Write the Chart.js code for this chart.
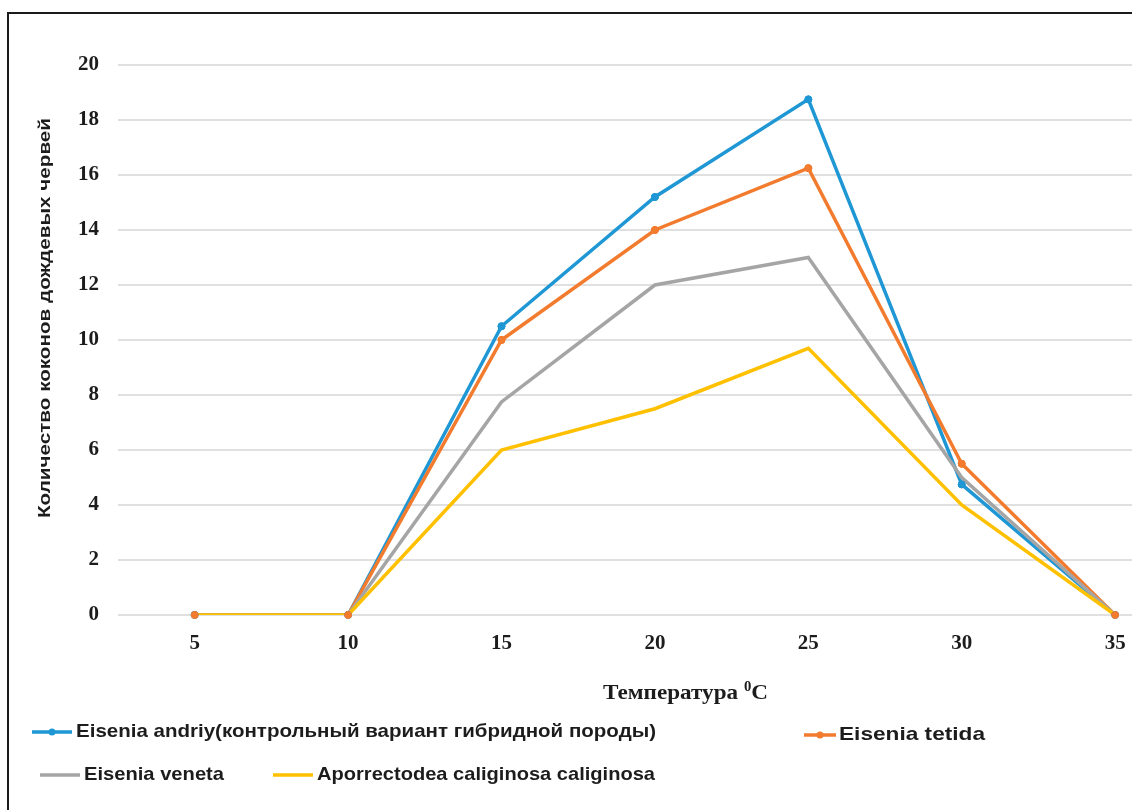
<!DOCTYPE html>
<html>
<head>
<meta charset="utf-8">
<script src="https://cdn.jsdelivr.net/npm/chart.js@4.4.1/dist/chart.umd.min.js"></script>
<style>
    html, body { margin: 0; padding: 0; background: #fff; overflow: hidden; }
    #wrap { position: relative; width: 1132px; height: 810px; overflow: hidden; }
    #chart { position: absolute; left: 0; top: 0; }
    /* outer frame of the figure, its right and bottom edges fall outside the picture */
    #frame {
        position: absolute; left: 7px; top: 12px; width: 1140px; height: 810px;
        border-left: 2px solid #1b1b1b; border-top: 2px solid #1b1b1b;
        pointer-events: none;
    }
</style>
</head>
<body>
<div id="wrap">
    <!-- a few px wider than the page: the plot runs off the right edge, as in the cropped original -->
    <canvas id="chart" width="1137" height="810"></canvas>
    <div id="frame"></div>
</div>
<script>
// Data
const temperatures = [5, 10, 15, 20, 25, 30, 35];
const yTicks = [0, 2, 4, 6, 8, 10, 12, 14, 16, 18, 20];

const andriy = [0, 0, 10.5, 15.2, 18.75, 4.75, 0];
const tetida = [0, 0, 10, 14, 16.25, 5.5, 0];
const veneta = [0, 0, 7.75, 12, 13, 5, 0];
const caliginosa = [0, 0, 6, 7.5, 9.7, 4, 0];

const seriesNames = [
    'Eisenia andriy(контрольный вариант гибридной породы)',
    'Eisenia tetida',
    'Eisenia veneta',
    'Aporrectodea caliginosa caliginosa'
];
const seriesColors = ['#1f97d4', '#f27b2e', '#a5a5a5', '#ffc000'];
const seriesMarkers = [true, true, false, false];

const yTitle = 'Количество коконов дождевых червей';
const xTitle = 'Температура ';
const xTitleSup = '0';
const xTitleUnit = 'C';

const textColor = '#1c1c1c';

function toPoints(values) {
    return temperatures.map((t, i) => ({ x: t, y: values[i] }));
}

const allValues = [andriy, tetida, veneta, caliginosa];

// Excel-like legend placement (two uneven rows), text squeezed to the original widths
const legendSlots = [
    { line: 32, text: 76, y: 732, width: 580 },
    { line: 804, text: 839, y: 735, width: 146, lineLen: 32 },
    { line: 40, text: 84, y: 775, width: 140 },
    { line: 273, text: 317, y: 775, width: 338 }
];

const extrasPlugin = {
    id: 'extras',
    afterDatasetsDraw(chart) {
        // markers sit above every line, like in the original
        const ctx = chart.ctx;
        [0, 1].forEach(i => {
            chart.getDatasetMeta(i).data.forEach(pt => pt.draw(ctx, chart.chartArea));
        });
    },
    afterDraw(chart) {
        const ctx = chart.ctx;
        ctx.save();
        ctx.fillStyle = textColor;

        // y axis title, rotated
        ctx.save();
        ctx.font = 'bold 17px "Liberation Sans", Arial, sans-serif';
        const yw = ctx.measureText(yTitle).width;
        ctx.translate(45, 318);
        ctx.rotate(-Math.PI / 2);
        ctx.scale(400 / yw, 1);
        ctx.textAlign = 'center';
        ctx.textBaseline = 'middle';
        ctx.fillText(yTitle, 0, 0);
        ctx.restore();

        // x axis title with superscript degree
        ctx.save();
        const mainFont = 'bold 22px "Liberation Serif", "Times New Roman", serif';
        const supFont = 'bold 14px "Liberation Serif", "Times New Roman", serif';
        ctx.font = mainFont;
        const w1 = ctx.measureText(xTitle).width;
        const w3 = ctx.measureText(xTitleUnit).width;
        ctx.font = supFont;
        const w2 = ctx.measureText(xTitleSup).width;
        const total = w1 + w2 + w3;
        ctx.translate(603, 699);
        ctx.scale(165 / total, 1);
        ctx.textBaseline = 'alphabetic';
        ctx.textAlign = 'left';
        ctx.font = mainFont;
        ctx.fillText(xTitle, 0, 0);
        ctx.font = supFont;
        ctx.fillText(xTitleSup, w1, -8);
        ctx.font = mainFont;
        ctx.fillText(xTitleUnit, w1 + w2, 0);
        ctx.restore();

        // legend
        ctx.font = 'bold 19px "Liberation Sans", Arial, sans-serif';
        legendSlots.forEach((slot, i) => {
            const len = slot.lineLen || 40;
            ctx.strokeStyle = seriesColors[i];
            ctx.lineWidth = 3.5;
            ctx.beginPath();
            ctx.moveTo(slot.line, slot.y);
            ctx.lineTo(slot.line + len, slot.y);
            ctx.stroke();
            if (seriesMarkers[i]) {
                ctx.fillStyle = seriesColors[i];
                ctx.beginPath();
                ctx.arc(slot.line + len / 2, slot.y, 3.5, 0, Math.PI * 2);
                ctx.fill();
            }
            const sx = slot.width / ctx.measureText(seriesNames[i]).width;
            ctx.save();
            ctx.fillStyle = textColor;
            ctx.translate(slot.text, slot.y);
            ctx.scale(sx, 1);
            ctx.textAlign = 'left';
            ctx.textBaseline = 'middle';
            ctx.fillText(seriesNames[i], 0, 0);
            ctx.restore();
        });
        ctx.restore();
    }
};

const tickFont = { family: '"Liberation Serif", "Times New Roman", serif', size: 21, weight: 'bold' };

const datasets = allValues.map((vals, i) => ({
    label: seriesNames[i],
    data: toPoints(vals),
    borderColor: seriesColors[i],
    backgroundColor: seriesColors[i],
    borderWidth: 3.5,
    tension: 0,
    pointRadius: seriesMarkers[i] ? 3.5 : 0,
    pointBorderWidth: 1,
    pointBackgroundColor: seriesColors[i],
    pointBorderColor: seriesColors[i],
    order: allValues.length - i   // later series drawn on top
}));

new Chart(document.getElementById('chart'), {
    type: 'line',
    data: { datasets },
    options: {
        responsive: false,
        animation: false,
        layout: { padding: { top: 65, left: 0, right: 0, bottom: 0 } },
        plugins: {
            legend: { display: false },
            tooltip: { enabled: false }
        },
        scales: {
            x: {
                type: 'linear',
                min: 2.5,
                max: 35.55,
                grid: { display: false, drawTicks: false },
                border: { display: false },
                afterBuildTicks: s => { s.ticks = temperatures.map(v => ({ value: v })); },
                afterFit: s => { s.height = 195; s.paddingLeft = 0; s.paddingRight = 0; },
                ticks: { padding: 16, font: tickFont, color: textColor, maxRotation: 0, autoSkip: false }
            },
            y: {
                min: 0,
                max: 20,
                afterBuildTicks: s => { s.ticks = yTicks.map(v => ({ value: v })); },
                afterFit: s => { s.width = 118; },
                grid: { color: '#e0e0e0', lineWidth: 2, drawTicks: false },
                border: { display: false },
                ticks: { padding: 19, font: tickFont, color: textColor }
            }
        }
    },
    plugins: [extrasPlugin]
});
</script>
</body>
</html>
